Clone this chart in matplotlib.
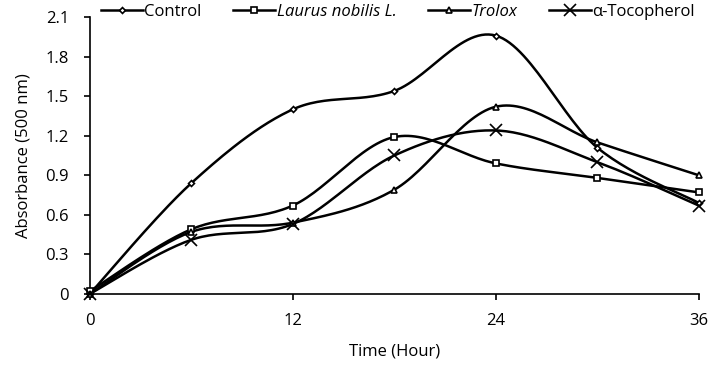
import numpy as np
import matplotlib
matplotlib.use('Agg')
import matplotlib.pyplot as plt

plt.rcParams['font.family'] = ['Open Sans', 'DejaVu Sans']

# data
hours = [0, 6, 12, 18, 24, 30, 36]
control = [0.0, 0.84, 1.40, 1.54, 1.96, 1.11, 0.69]
laurus = [0.02, 0.49, 0.67, 1.19, 0.99, 0.88, 0.77]
trolox = [0.0, 0.47, 0.54, 0.79, 1.42, 1.15, 0.90]
tocopherol = [0.0, 0.41, 0.53, 1.05, 1.24, 1.00, 0.67]

names = ['Control', 'Laurus nobilis L.', 'Trolox', 'α-Tocopherol']
markers = ['D', 's', '^', 'x']
msizes = [3, 5, 4, 8]
italic = [False, True, True, False]


# Excel-like smoothed line (cardinal bezier through the points)
def smooth(x, y, sx=609 / 36, sy=277 / 2.1, n=30):
    px = np.array(x) * sx
    py = np.array(y) * sy
    outx, outy = [], []
    for i in range(len(px) - 1):
        p0 = (px[max(i - 1, 0)], py[max(i - 1, 0)])
        p1 = (px[i], py[i])
        p2 = (px[i + 1], py[i + 1])
        p3 = (px[min(i + 2, len(px) - 1)], py[min(i + 2, len(px) - 1)])
        c1 = (p1[0] + (p2[0] - p0[0]) / 6, p1[1] + (p2[1] - p0[1]) / 6)
        c2 = (p2[0] - (p3[0] - p1[0]) / 6, p2[1] - (p3[1] - p1[1]) / 6)
        t = np.linspace(0, 1, n)
        bx = (1 - t) ** 3 * p1[0] + 3 * (1 - t) ** 2 * t * c1[0] + 3 * (1 - t) * t ** 2 * c2[0] + t ** 3 * p2[0]
        by = (1 - t) ** 3 * p1[1] + 3 * (1 - t) ** 2 * t * c1[1] + 3 * (1 - t) * t ** 2 * c2[1] + t ** 3 * p2[1]
        outx.extend(bx)
        outy.extend(by)
    return np.array(outx) / sx, np.array(outy) / sy


fig = plt.figure(figsize=(7.13, 3.65), dpi=100)
ax = fig.add_axes([0.126, 0.195, 0.854, 0.758])

handles = []
for vals, name, m, ms in zip([control, laurus, trolox, tocopherol], names, markers, msizes):
    sx, sy = smooth(hours, vals)
    ax.plot(sx, sy, color='black', lw=1.8, zorder=2)
    ax.plot(hours, vals, linestyle='none', marker=m, ms=ms, mfc='white', mec='black',
            mew=1.2, zorder=3, clip_on=False)
    h, = ax.plot([], [], color='black', lw=1.8, marker=m, ms=ms, mfc='white', mec='black', mew=1.2)
    handles.append(h)

ax.set_xlim(0, 36)
ax.set_ylim(0, 2.1)
ax.set_xticks([0, 12, 24, 36])
ax.set_yticks(np.arange(0, 2.11, 0.3))
ax.set_yticklabels(['0', '0.3', '0.6', '0.9', '1.2', '1.5', '1.8', '2.1'])
ax.tick_params(labelsize=12, width=1.2, length=4, direction='out')
ax.tick_params(axis='x', pad=10)
ax.tick_params(axis='y', pad=11)
ax.spines['top'].set_visible(False)
ax.spines['right'].set_visible(False)
ax.spines['left'].set_linewidth(1.2)
ax.spines['bottom'].set_linewidth(1.2)
ax.set_xlabel('Time (Hour)', fontsize=12, labelpad=10)
ax.set_ylabel('Absorbance (500 nm)', fontsize=12, labelpad=10)

leg = fig.legend(handles, names, loc='center left', bbox_to_anchor=(0.13, 0.967), ncol=4,
                 frameon=False, fontsize=12, handlelength=2.5, handletextpad=0.1,
                 columnspacing=1.9, borderpad=0)
for txt, it in zip(leg.get_texts(), italic):
    if it:
        txt.set_fontstyle('italic')

fig.savefig('out.png', dpi=100)
